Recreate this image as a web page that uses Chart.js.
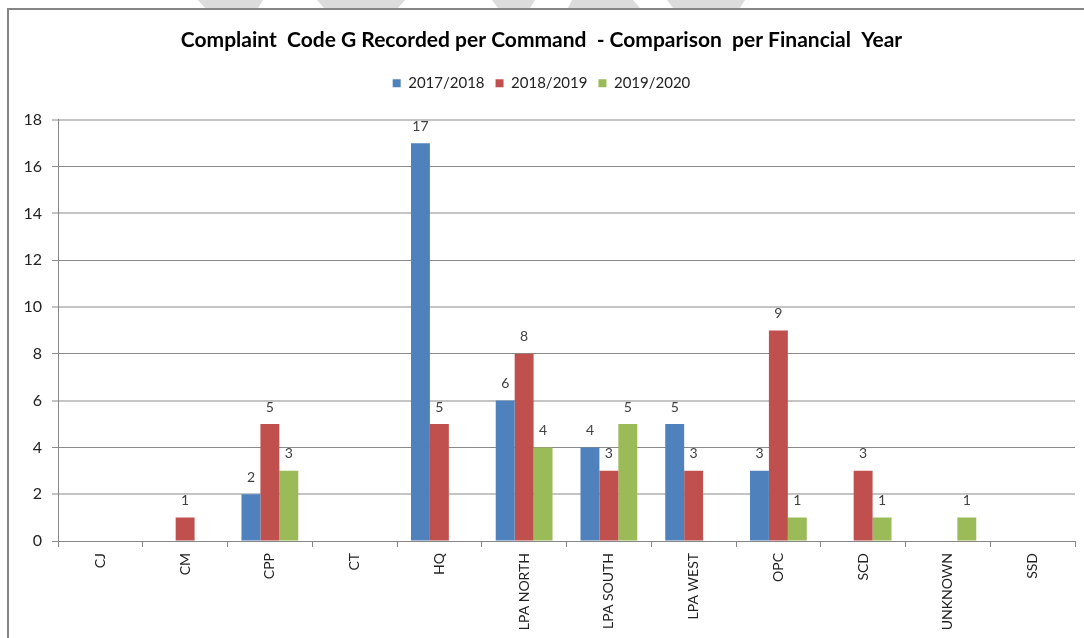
<!DOCTYPE html>
<html>
<head>
<meta charset="utf-8">
<script src="https://cdn.jsdelivr.net/npm/chart.js@4.4.1/dist/chart.umd.min.js"></script>
<style>
  html, body { margin: 0; padding: 0; background: #ffffff; }
  #wrap { position: relative; width: 1084px; height: 638px; }
</style>
</head>
<body>
<div id="wrap"><canvas id="c" width="1084" height="638"></canvas></div>
<script>
const categories = ["CJ", "CM", "CPP", "CT", "HQ", "LPA NORTH", "LPA SOUTH", "LPA WEST", "OPC", "SCD", "UNKNOWN", "SSD"];
const seriesNames = ["2017/2018", "2018/2019", "2019/2020"];
const fy1718 = [0, 0, 2, 0, 17, 6, 4, 5, 3, 0, 0, 0];
const fy1819 = [0, 1, 5, 0, 5, 8, 3, 3, 9, 3, 0, 0];
const fy1920 = [0, 0, 3, 0, 0, 4, 5, 0, 1, 1, 1, 0];
const yTicks = [0, 2, 4, 6, 8, 10, 12, 14, 16, 18];
const titleText = "Complaint  Code G Recorded per Command  - Comparison  per Financial  Year";

const FONT = "Lato, 'Liberation Sans', Arial, sans-serif";

const framePlugin = {
  id: 'frame',
  beforeDraw(chart) {
    const ctx = chart.ctx;
    ctx.save();
    ctx.fillStyle = '#ffffff';
    ctx.fillRect(0, 0, chart.width, chart.height);
    // faint watermark fragments at top
    ctx.fillStyle = '#dcdcdc';
    const shapes = [
      [[198,0],[263,0],[258,8],[205,8]],
      [[317,0],[405,0],[398,8],[324,8]],
      [[492,0],[535,0],[530,8],[498,8]],
      [[572,0],[633,0],[640,8],[568,8]],
      [[667,0],[745,0],[740,8],[673,8]]
    ];
    shapes.forEach(s => {
      ctx.beginPath();
      ctx.moveTo(s[0][0], s[0][1]);
      for (let i = 1; i < s.length; i++) ctx.lineTo(s[i][0], s[i][1]);
      ctx.closePath();
      ctx.fill();
    });
    // frame border
    ctx.strokeStyle = '#858585';
    ctx.lineWidth = 2;
    ctx.beginPath();
    ctx.moveTo(8, 638);
    ctx.lineTo(8, 9);
    ctx.lineTo(1084, 9);
    ctx.stroke();
    ctx.restore();
  }
};

const legendGap = {
  id: 'legendGap',
  beforeInit(chart) {
    const origFit = chart.legend.fit;
    chart.legend.fit = function () {
      origFit.bind(chart.legend)();
      this.height += 19;
    };
  }
};

const valueLabels = {
  id: 'valueLabels',
  afterDatasetsDraw(chart) {
    const ctx = chart.ctx;
    ctx.save();
    ctx.font = "14px " + FONT;
    ctx.fillStyle = '#404040';
    ctx.textAlign = 'center';
    ctx.textBaseline = 'middle';
    chart.data.datasets.forEach((ds, di) => {
      const meta = chart.getDatasetMeta(di);
      meta.data.forEach((el, i) => {
        const v = ds.data[i];
        if (v) ctx.fillText(String(v), el.x, el.y - 17);
      });
    });
    ctx.restore();
  }
};

new Chart(document.getElementById('c'), {
  type: 'bar',
  data: {
    labels: categories,
    datasets: [
      { label: seriesNames[0], data: fy1718, backgroundColor: '#4f81bd' },
      { label: seriesNames[1], data: fy1819, backgroundColor: '#c0504d' },
      { label: seriesNames[2], data: fy1920, backgroundColor: '#9bbb59' }
    ]
  },
  options: {
    responsive: false,
    animation: false,
    events: [],
    layout: { padding: { left: 8, right: 9, top: 0, bottom: 0 } },
    datasets: { bar: { barPercentage: 1.0, categoryPercentage: 0.67 } },
    plugins: {
      title: {
        display: true,
        text: titleText,
        color: '#000000',
        font: { family: FONT, size: 21, weight: 'bold' },
        padding: { top: 27.4, bottom: 12.2 }
      },
      legend: {
        display: true,
        position: 'top',
        labels: {
          color: '#222222',
          font: { family: FONT, size: 15 },
          boxWidth: 8,
          boxHeight: 8,
          padding: 11
        }
      },
      tooltip: { enabled: false }
    },
    scales: {
      x: {
        afterFit(scale) { scale.height = 97; },
        grid: {
          display: true,
          drawOnChartArea: false,
          drawTicks: true,
          tickLength: 6,
          color: '#868686',
          offset: true
        },
        border: { display: true, color: '#868686', width: 1 },
        ticks: {
          color: '#222222',
          font: { family: FONT, size: 14 },
          minRotation: 90,
          maxRotation: 90,
          autoSkip: false,
          padding: 6
        }
      },
      y: {
        min: 0,
        max: 18,
        afterFit(scale) { scale.width = 50; },
        afterBuildTicks(scale) { scale.ticks = yTicks.map(v => ({ value: v })); },
        grid: {
          display: true,
          drawOnChartArea: true,
          drawTicks: true,
          tickLength: 6,
          color: ctx => (ctx.tick && ctx.tick.value % 4 === 0) ? '#8a8a8a' : '#c4c4c4',
          lineWidth: ctx => (ctx.tick && ctx.tick.value % 4 === 0) ? 1 : 2
        },
        border: { display: true, color: '#868686', width: 1 },
        ticks: {
          color: '#222222',
          font: { family: FONT, size: 16 },
          padding: 10,
          stepSize: 2
        }
      }
    }
  },
  plugins: [framePlugin, legendGap, valueLabels]
});
</script>
</body>
</html>
